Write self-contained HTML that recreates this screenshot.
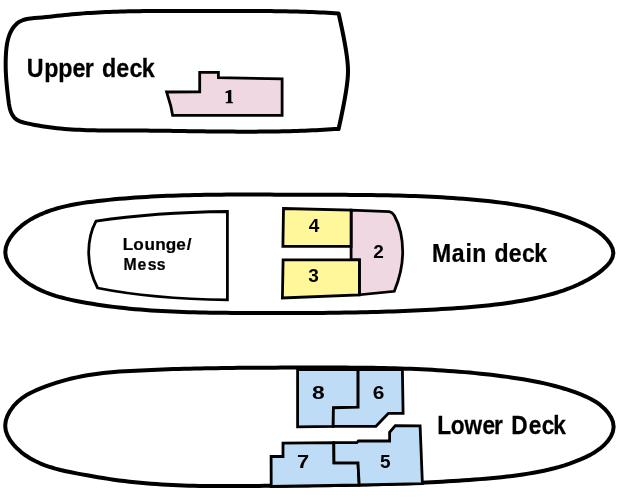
<!DOCTYPE html>
<html><head><meta charset="utf-8"><style>
html,body{margin:0;padding:0;background:#fff;width:620px;height:503px;overflow:hidden}
svg{display:block}
text{font-family:"Liberation Sans",sans-serif;font-weight:bold;fill:#000}
.big{stroke:#000;stroke-width:0.25px}
.sm{stroke:#000;stroke-width:0.2px}
</style></head><body>
<div style="will-change:transform"><svg width="620" height="503" viewBox="0 0 620 503">
<g fill="#fff" stroke="#000" stroke-width="4.0" stroke-linejoin="round">
<path d="M338.61,128.80 334.85,129.07 331.09,129.32 327.34,129.55 323.58,129.77 319.82,129.97 316.06,130.17 312.30,130.34 308.55,130.51 304.79,130.66 301.04,130.80 297.28,130.93 293.53,131.04 289.77,131.14 286.02,131.24 282.26,131.32 278.51,131.39 274.76,131.46 271.00,131.51 267.25,131.55 263.50,131.59 259.74,131.62 255.99,131.64 252.24,131.65 248.48,131.66 244.73,131.66 240.98,131.65 237.23,131.64 233.47,131.62 229.72,131.60 225.97,131.57 222.21,131.54 218.46,131.50 214.71,131.46 210.95,131.42 207.20,131.38 203.44,131.33 199.69,131.28 195.94,131.23 192.18,131.18 188.42,131.13 184.67,131.07 180.91,131.02 177.16,130.97 173.40,130.92 169.64,130.87 165.88,130.82 162.12,130.77 158.36,130.73 154.60,130.69 150.84,130.65 147.08,130.62 143.32,130.59 139.56,130.56 135.80,130.54 132.03,130.53 128.27,130.52 124.50,130.51 120.74,130.51 116.97,130.50 113.20,130.49 109.44,130.48 105.67,130.46 101.91,130.42 98.15,130.38 94.39,130.31 90.63,130.23 86.87,130.13 83.11,130.00 79.36,129.84 75.61,129.66 71.86,129.44 68.12,129.19 64.38,128.89 60.64,128.56 56.91,128.19 53.18,127.77 49.45,127.31 45.73,126.79 42.02,126.22 38.31,125.59 34.60,124.91 30.91,124.16 27.21,123.35 23.53,122.47 19.96,121.39 16.74,119.81 14.09,117.46 12.04,114.44 10.55,110.95 9.55,107.20 8.87,103.32 8.36,99.42 7.89,95.56 7.45,91.77 7.04,88.02 6.68,84.30 6.36,80.61 6.10,76.93 5.89,73.26 5.74,69.59 5.67,65.90 5.67,62.18 5.74,58.43 5.91,54.63 6.17,50.78 6.57,46.93 7.16,43.11 7.99,39.37 9.08,35.75 10.50,32.28 12.28,29.01 14.45,26.04 17.00,23.48 19.92,21.46 23.20,20.01 26.75,19.04 30.51,18.42 34.38,18.03 38.30,17.75 42.19,17.45 46.01,17.09 49.78,16.69 53.52,16.27 57.23,15.84 60.94,15.42 64.65,15.02 68.37,14.65 72.09,14.30 75.81,13.97 79.54,13.67 83.26,13.38 87.00,13.12 90.73,12.88 94.47,12.65 98.21,12.45 101.95,12.26 105.70,12.09 109.44,11.93 113.19,11.79 116.94,11.66 120.69,11.55 124.45,11.45 128.21,11.36 131.96,11.29 135.72,11.22 139.48,11.17 143.24,11.12 147.00,11.08 150.77,11.05 154.53,11.03 158.29,11.01 162.06,11.00 165.82,10.99 169.59,10.99 173.35,10.99 177.12,10.99 180.88,11.00 184.64,11.00 188.41,11.01 192.17,11.01 195.93,11.02 199.69,11.02 203.45,11.02 207.21,11.01 210.97,11.01 214.73,11.00 218.48,10.99 222.24,10.99 225.99,10.98 229.75,10.97 233.50,10.97 237.25,10.96 241.01,10.96 244.76,10.96 248.51,10.97 252.26,10.98 256.01,10.99 259.76,11.01 263.52,11.04 267.27,11.07 271.02,11.10 274.77,11.15 278.52,11.20 282.27,11.26 286.02,11.33 289.78,11.40 293.53,11.49 297.28,11.59 301.04,11.70 304.79,11.82 308.54,11.95 312.30,12.10 316.06,12.25 319.81,12.42 323.57,12.61 327.33,12.81 331.09,13.02 334.85,13.25 338.61,13.50 C342.6,31 346.6,50 347.7,64 Q348.3,71 347.7,78 C346.6,92 342.6,111 338.6,129 Z"/>
<path d="M5.28,252.37 5.87,247.45 7.61,242.58 10.29,237.84 13.70,233.33 17.65,229.14 21.93,225.38 26.41,222.07 31.06,219.15 35.84,216.58 40.73,214.29 45.69,212.25 50.71,210.42 55.79,208.80 60.93,207.37 66.11,206.10 71.34,204.98 76.60,203.99 81.89,203.12 87.20,202.34 92.53,201.65 97.88,201.01 103.22,200.42 108.57,199.87 113.93,199.35 119.28,198.86 124.64,198.41 130.00,197.99 135.36,197.60 140.73,197.24 146.10,196.90 151.46,196.60 156.84,196.32 162.21,196.07 167.58,195.84 172.96,195.63 178.34,195.45 183.72,195.28 189.10,195.14 194.48,195.01 199.86,194.90 205.24,194.81 210.63,194.74 216.01,194.68 221.40,194.63 226.79,194.59 232.17,194.57 237.56,194.55 242.95,194.54 248.34,194.55 253.72,194.55 259.11,194.57 264.50,194.58 269.89,194.61 275.28,194.63 280.66,194.65 286.05,194.68 291.44,194.70 296.82,194.72 302.21,194.74 307.59,194.76 312.97,194.77 318.36,194.78 323.74,194.79 329.12,194.81 334.50,194.82 339.88,194.84 345.26,194.86 350.64,194.89 356.01,194.93 361.39,194.97 366.77,195.02 372.14,195.09 377.52,195.16 382.89,195.25 388.26,195.35 393.64,195.46 399.01,195.59 404.38,195.74 409.75,195.90 415.13,196.09 420.50,196.29 425.87,196.52 431.24,196.77 436.61,197.04 441.97,197.34 447.34,197.66 452.71,198.01 458.08,198.39 463.45,198.80 468.81,199.24 474.18,199.71 479.55,200.21 484.91,200.75 490.28,201.32 495.64,201.94 500.99,202.61 506.34,203.33 511.67,204.11 517.00,204.95 522.31,205.86 527.60,206.84 532.87,207.90 538.12,209.05 543.36,210.28 548.56,211.60 553.74,213.02 558.89,214.54 564.02,216.17 569.10,217.91 574.16,219.77 579.17,221.76 584.15,223.87 589.05,226.21 593.83,228.86 598.47,231.92 602.91,235.49 606.97,239.55 610.30,243.95 612.55,248.53 613.35,253.13 612.45,257.62 610.09,261.92 606.64,266.00 602.46,269.81 597.92,273.32 593.17,276.53 588.28,279.45 583.29,282.11 578.26,284.53 573.23,286.74 568.18,288.74 563.12,290.56 558.04,292.22 552.95,293.73 547.84,295.11 542.70,296.39 537.54,297.58 532.35,298.68 527.13,299.72 521.89,300.68 516.62,301.58 511.34,302.41 506.03,303.18 500.71,303.90 495.37,304.56 490.03,305.18 484.66,305.75 479.29,306.28 473.91,306.77 468.53,307.23 463.14,307.65 457.75,308.05 452.35,308.43 446.96,308.78 441.57,309.12 436.18,309.44 430.80,309.74 425.41,310.03 420.03,310.30 414.65,310.55 409.27,310.79 403.89,311.02 398.51,311.23 393.13,311.42 387.75,311.60 382.38,311.77 377.00,311.93 371.63,312.07 366.25,312.20 360.88,312.32 355.51,312.43 350.13,312.53 344.76,312.62 339.39,312.70 334.02,312.77 328.64,312.83 323.27,312.88 317.90,312.93 312.52,312.96 307.15,312.99 301.77,313.02 296.40,313.04 291.02,313.05 285.65,313.05 280.27,313.06 274.89,313.05 269.51,313.05 264.13,313.04 258.75,313.02 253.37,313.01 247.98,312.99 242.60,312.97 237.21,312.94 231.82,312.91 226.43,312.87 221.04,312.82 215.65,312.76 210.27,312.68 204.88,312.59 199.49,312.48 194.10,312.36 188.72,312.21 183.34,312.04 177.95,311.84 172.57,311.62 167.20,311.36 161.82,311.08 156.45,310.77 151.08,310.42 145.72,310.04 140.35,309.61 135.00,309.15 129.64,308.65 124.30,308.11 118.95,307.51 113.61,306.88 108.28,306.19 102.95,305.45 97.63,304.66 92.31,303.82 87.00,302.92 81.70,301.96 76.40,300.95 71.12,299.85 65.87,298.65 60.66,297.31 55.51,295.82 50.43,294.14 45.42,292.25 40.52,290.13 35.72,287.73 31.04,285.05 26.50,282.05 22.10,278.70 17.87,274.99 13.93,270.93 10.49,266.58 7.76,262.00 5.95,257.24Z"/>
<path d="M5.18,425.77 5.79,420.71 7.48,415.68 10.09,410.82 13.43,406.24 17.33,402.07 21.60,398.44 26.12,395.37 30.83,392.75 35.70,390.47 40.66,388.40 45.68,386.46 50.75,384.64 55.87,382.94 61.03,381.35 66.22,379.89 71.45,378.56 76.71,377.35 81.99,376.27 87.29,375.31 92.61,374.46 97.95,373.72 103.30,373.08 108.67,372.52 114.04,372.04 119.42,371.61 124.81,371.25 130.20,370.93 135.60,370.64 141.00,370.38 146.39,370.13 151.78,369.90 157.18,369.68 162.57,369.48 167.96,369.29 173.35,369.12 178.74,368.96 184.13,368.81 189.51,368.67 194.90,368.54 200.29,368.43 205.67,368.32 211.06,368.22 216.45,368.14 221.83,368.06 227.22,367.99 232.61,367.93 237.99,367.87 243.38,367.82 248.77,367.78 254.16,367.74 259.54,367.71 264.93,367.68 270.32,367.66 275.72,367.64 281.11,367.62 286.50,367.60 291.90,367.59 297.29,367.58 302.69,367.57 308.09,367.55 313.49,367.55 318.89,367.54 324.29,367.54 329.69,367.54 335.10,367.55 340.50,367.57 345.90,367.60 351.31,367.63 356.71,367.67 362.11,367.73 367.52,367.79 372.92,367.87 378.32,367.97 383.72,368.07 389.12,368.20 394.51,368.34 399.91,368.50 405.30,368.67 410.70,368.87 416.09,369.09 421.48,369.33 426.86,369.59 432.24,369.87 437.62,370.18 443.00,370.52 448.38,370.88 453.75,371.27 459.11,371.69 464.48,372.13 469.84,372.61 475.20,373.12 480.55,373.66 485.90,374.24 491.24,374.85 496.58,375.49 501.91,376.18 507.24,376.89 512.57,377.65 517.89,378.45 523.20,379.30 528.50,380.22 533.79,381.19 539.07,382.25 544.34,383.39 549.60,384.62 554.83,385.96 560.06,387.40 565.26,388.96 570.44,390.65 575.61,392.47 580.75,394.43 585.85,396.57 590.84,398.96 595.66,401.72 600.22,404.93 604.45,408.66 608.14,412.85 611.06,417.37 612.97,422.10 613.63,426.92 612.89,431.72 610.91,436.39 607.93,440.84 604.16,444.98 599.85,448.71 595.17,451.98 590.23,454.86 585.13,457.40 579.96,459.67 574.80,461.73 569.66,463.61 564.54,465.31 559.41,466.86 554.29,468.26 549.15,469.54 543.98,470.70 538.79,471.77 533.56,472.75 528.30,473.64 523.01,474.47 517.69,475.23 512.35,475.92 506.99,476.56 501.62,477.15 496.23,477.69 490.83,478.20 485.43,478.67 480.03,479.12 474.63,479.54 469.23,479.94 463.84,480.33 458.44,480.69 453.05,481.04 447.66,481.36 442.27,481.67 436.88,481.97 431.49,482.24 426.11,482.50 420.72,482.75 415.34,482.98 409.96,483.20 404.57,483.40 399.19,483.59 393.81,483.77 388.43,483.94 383.05,484.09 377.67,484.24 372.28,484.37 366.90,484.50 361.52,484.61 356.14,484.72 350.75,484.82 345.37,484.92 339.99,485.00 334.60,485.09 329.21,485.16 323.82,485.23 318.43,485.30 313.04,485.36 307.65,485.42 302.25,485.48 296.86,485.54 291.46,485.59 286.06,485.64 280.65,485.70 275.25,485.75 269.84,485.81 264.43,485.86 259.02,485.92 253.60,485.97 248.19,486.02 242.77,486.06 237.35,486.09 231.94,486.11 226.52,486.12 221.10,486.12 215.69,486.09 210.28,486.05 204.87,485.99 199.46,485.90 194.06,485.79 188.66,485.65 183.26,485.48 177.87,485.28 172.48,485.04 167.10,484.77 161.73,484.47 156.36,484.12 151.00,483.73 145.64,483.30 140.30,482.82 134.96,482.29 129.63,481.72 124.31,481.09 119.00,480.41 113.69,479.67 108.40,478.88 103.10,478.05 97.80,477.18 92.50,476.26 87.19,475.32 81.86,474.35 76.52,473.35 71.17,472.31 65.83,471.19 60.52,469.96 55.27,468.59 50.08,467.04 44.97,465.29 39.98,463.30 35.11,461.03 30.38,458.47 25.81,455.56 21.42,452.28 17.25,448.61 13.41,444.56 10.10,440.19 7.50,435.57 5.80,430.74Z"/>
</g>
<g stroke="#000" stroke-width="2.8" stroke-linejoin="miter">
<path fill="#efd8e2" d="M166.60,92.00 L199.70,91.80 L199.70,72.40 L218.40,72.40 L218.40,77.70 L282.10,78.80 L282.10,115.40 L172.60,115.30 L170.80,106.00Z"/>
<path fill="#fff" d="M96,221.2 C130,216 180,212 227.4,211.5 L227.4,299.9 C180,299.2 130,294.5 97.6,288 C86,266 86,240 96,221.2Z"/>
<path fill="#efd8e2" d="M351.1,210.1 L389.3,211.7 Q392.3,212.3 394.3,215.5 C399,224 402.7,238 402.7,252 C402.7,266 398.5,281 394.3,291.3 L359.4,294.8 L359.4,259.8 L351.1,259.8Z"/>
<path fill="#fff799" d="M283.50,208.50 L351.10,210.10 L351.10,246.40 L282.90,246.40Z"/>
<path fill="#fff799" d="M283.10,259.80 L359.40,259.80 L359.40,294.80 L282.40,298.00Z"/>
<path fill="#bedcf5" d="M297.60,369.60 L358.10,369.60 L358.10,407.20 L333.40,407.90 L333.20,426.30 L297.60,426.90Z"/>
<path fill="#bedcf5" d="M358.10,369.60 L402.40,369.60 L403.10,413.40 L388.40,413.40 L375.90,426.30 L333.20,426.30 L333.40,407.90 L358.10,407.20Z"/>
<path fill="#bedcf5" d="M271.20,486.50 L271.10,456.50 L283.00,456.50 L283.00,443.20 L333.80,442.60 L334.00,462.80 L358.00,462.80 L359.20,485.00Z"/>
<path fill="#bedcf5" d="M333.80,442.60 L356.80,442.70 L358.40,441.00 L389.60,441.00 L389.60,432.30 L395.30,425.60 L420.10,425.90 L422.40,483.60 L359.20,485.00 L358.00,462.80 L334.00,462.80Z"/>
</g>
<text class="big" transform="scale(0.9163,1)" x="29.15 48.30 63.47 79.26 92.42 100.42 111.36 126.90 141.35 154.82" y="76.7" font-size="25.4">Upper deck</text>
<text class="big" transform="scale(0.9136,1)" x="472.86 494.45 509.64 517.04 525.04 541.26 556.74 571.23 584.75" y="262.2" font-size="25.2">Main deck</text>
<text class="big" transform="scale(0.9033,1)" x="484.14 498.99 514.34 534.15 546.96 554.96 565.92 585.30 599.68 612.59" y="433.8" font-size="25.1">Lower Deck</text>
<text class="sm" transform="scale(1.0608,1)" x="115.76 125.57 136.16 146.37 156.28 166.18 176.16" y="249.9" font-size="16.2">Lounge/</text>
<text class="sm" transform="scale(0.9749,1)" x="126.76 141.07 151.52 160.85" y="269.6" font-size="16.2">Mess</text>
<g font-size="19" text-anchor="middle">
<text x="314" y="232">4</text>
<text x="313.5" y="281.8">3</text>
<text x="378.6" y="258.4">2</text>
<text x="318.4" y="399.3" transform="translate(318.4,0) scale(1.2,1) translate(-318.4,0)">8</text>
<text x="378.6" y="399.2" transform="translate(378.6,0) scale(1.1,1) translate(-378.6,0)">6</text>
<text x="303" y="467.6" transform="translate(303,0) scale(1.15,1) translate(-303,0)">7</text>
<text x="385.3" y="467.8">5</text>
</g>
<path fill="#000" d="M231.3,90 L231.3,101.2 C231.6,102 232.3,102.2 233.1,102.3 L233.1,103.3 L225.7,103.3 L225.7,102.3 C226.6,102.2 227.7,102 228,101.2 L228,92.7 L225.6,93.3 L225.4,91.7 L229.6,90 Z"/>
</svg></div>
</body></html>
